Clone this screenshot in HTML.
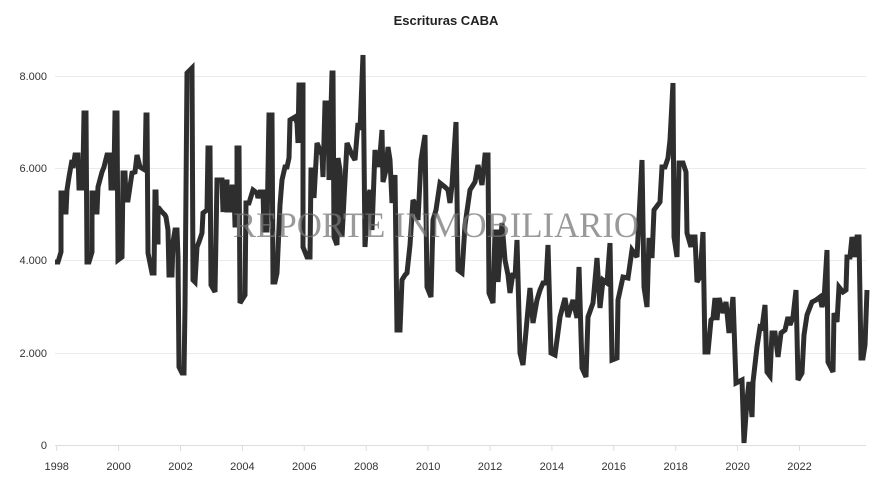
<!DOCTYPE html>
<html><head><meta charset="utf-8"><style>
body{margin:0;background:#fff;width:880px;height:485px;overflow:hidden;font-family:"Liberation Sans",sans-serif}
</style></head><body>
<svg width="880" height="485" xmlns="http://www.w3.org/2000/svg" font-family="Liberation Sans, sans-serif">
<text x="446" y="25" text-anchor="middle" font-size="13" font-weight="bold" fill="#222">Escrituras CABA</text>
<g stroke="#ebebeb" stroke-width="1">
<line x1="55" x2="866" y1="76.5" y2="76.5"/><line x1="55" x2="866" y1="168.5" y2="168.5"/>
<line x1="55" x2="866" y1="260.5" y2="260.5"/><line x1="55" x2="866" y1="353.5" y2="353.5"/>
</g>
<line x1="55" x2="866" y1="445.5" y2="445.5" stroke="#ddd"/>
<g stroke="#ddd"><line x1="56.7" x2="56.7" y1="445" y2="451"/><line x1="118.6" x2="118.6" y1="445" y2="451"/><line x1="180.5" x2="180.5" y1="445" y2="451"/><line x1="242.4" x2="242.4" y1="445" y2="451"/><line x1="304.3" x2="304.3" y1="445" y2="451"/><line x1="366.2" x2="366.2" y1="445" y2="451"/><line x1="428.1" x2="428.1" y1="445" y2="451"/><line x1="490" x2="490" y1="445" y2="451"/><line x1="551.9" x2="551.9" y1="445" y2="451"/><line x1="613.8" x2="613.8" y1="445" y2="451"/><line x1="675.7" x2="675.7" y1="445" y2="451"/><line x1="737.6" x2="737.6" y1="445" y2="451"/><line x1="799.5" x2="799.5" y1="445" y2="451"/></g>
<g font-size="11" fill="#333" text-anchor="end">
<text x="47" y="80">8.000</text><text x="47" y="172">6.000</text><text x="47" y="264">4.000</text><text x="47" y="357">2.000</text><text x="47" y="449">0</text></g>
<g font-size="11" fill="#333" text-anchor="middle">
<text x="56.7" y="470">1998</text><text x="118.6" y="470">2000</text><text x="180.5" y="470">2002</text><text x="242.4" y="470">2004</text><text x="304.3" y="470">2006</text><text x="366.2" y="470">2008</text><text x="428.1" y="470">2010</text><text x="490" y="470">2012</text><text x="551.9" y="470">2014</text><text x="613.8" y="470">2016</text><text x="675.7" y="470">2018</text><text x="737.6" y="470">2020</text><text x="799.5" y="470">2022</text></g>
<polyline fill="none" stroke="#2e2e2e" stroke-width="5" stroke-linejoin="miter" stroke-miterlimit="3" points="55,262 58,262 61,252 61,193 63,193 64,212 66,212 67,190 69,177 72,160 73,168 75,155 78,155 79,188 82,188 83,170 84,113 86,113 87,262 89,262 92,252 92,193 94,193 95,212 97,212 98,187 102,172 104,167 107,155 110,155 111,188 113,188 114,173 115,113 117,113 118,260 122,257 123,173 125,173 126,200 128,200 132,173 135,172 137,155 140,167 145,170 146,115 147,115 148,253 152,273 154,273 155,192 156,192 157,242 158,242 158,207 162,212 165,215 166,217 168,230 169,275 172,275 173,242 175,230 177,230 178,257 179,367 182,373 184,373 185,307 187,73 192,68 193,280 195,282 197,247 199,242 202,233 203,213 207,210 208,148 210,148 211,285 215,292 217,180 222,180 223,212 225,182 227,182 227,210 230,210 232,187 234,187 235,225 237,225 237,148 239,148 240,303 245,295 246,203 249,203 253,190 257,193 258,198 260,192 263,192 264,230 267,230 269,115 272,115 273,282 275,282 277,273 280,205 282,180 285,167 287,167 289,158 290,120 295,117 297,123 298,143 299,85 303,85 303,247 307,257 310,257 311,170 313,170 314,198 317,143 322,155 323,177 325,103 328,103 329,180 332,73 333,73 334,237 337,245 338,158 340,170 342,237 345,180 347,143 350,150 352,155 355,160 358,123 360,130 363,55 365,247 368,197 370,190 372,230 375,150 378,167 380,155 382,130 383,182 386,170 388,147 390,160 392,203 395,175 397,330 400,330 402,280 405,275 407,273 410,245 413,200 416,205 418,220 421,160 425,135 427,287 431,297 433,220 436,210 440,183 445,187 448,190 450,203 452,185 456,122 458,270 462,273 465,225 470,190 475,182 478,165 482,185 485,155 488,155 489,293 493,303 495,232 498,232 498,282 502,223 505,260 508,275 510,293 513,273 515,278 517,240 520,353 523,365 527,320 530,288 533,323 537,300 540,290 543,283 546,283 548,245 551,353 555,355 560,317 565,298 568,317 573,300 577,318 579,267 582,368 586,377 588,317 593,303 597,258 600,308 603,280 607,283 610,243 612,360 617,358 618,300 623,277 628,278 632,250 637,257 642,160 644,287 647,307 649,238 652,258 654,210 660,202 662,167 665,167 668,158 670,140 673,83 674,237 677,257 679,163 683,163 686,172 687,233 691,247 692,237 695,237 697,282 700,277 703,232 705,352 708,352 711,320 713,318 715,298 717,320 719,298 723,313 726,302 729,333 733,297 736,383 742,380 744,443 747,400 749,382 752,417 753,382 757,347 760,327 762,328 765,305 767,372 770,376 772,333 775,333 778,357 781,333 785,330 788,317 790,325 793,317 796,290 798,380 802,373 804,335 807,315 812,302 816,300 820,297 822,307 824,300 827,250 828,362 833,372 834,313 837,322 839,287 843,292 846,290 847,257 850,257 852,237 855,257 857,237 859,237 861,358 863,358 865,345 867,290"/>
<text x="436" y="237" text-anchor="middle" font-family="Liberation Serif, serif" font-size="36" fill="#777" fill-opacity="0.75" textLength="406" lengthAdjust="spacingAndGlyphs">REPORTE INMOBILIARIO</text>
</svg>
</body></html>
